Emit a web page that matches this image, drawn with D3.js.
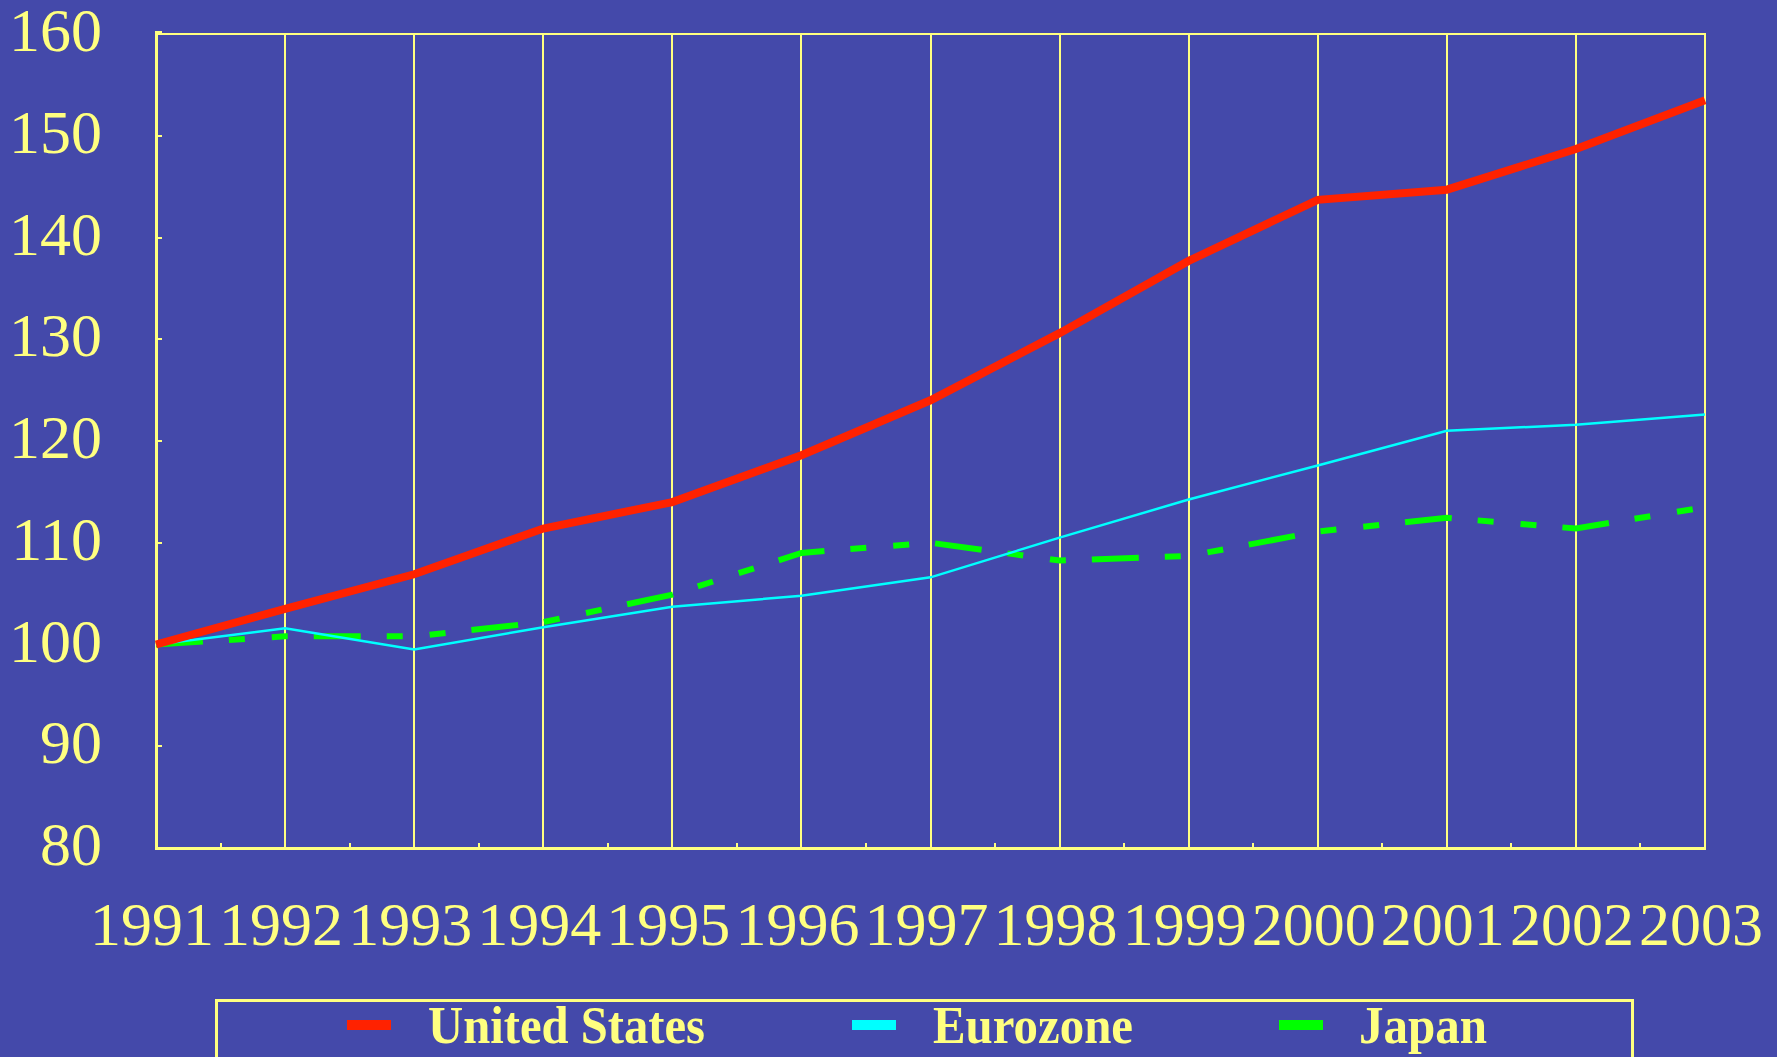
<!DOCTYPE html>
<html>
<head>
<meta charset="utf-8">
<script src="https://cdn.jsdelivr.net/npm/d3@7"></script>
<style>
  html, body { margin: 0; padding: 0; background: #4449AA; }
  svg { display: block; }
</style>
</head>
<body>
<svg id="chart" width="1777" height="1057"></svg>
<script>
// ---- data ----
const years = [1991, 1992, 1993, 1994, 1995, 1996, 1997, 1998, 1999, 2000, 2001, 2002, 2003];
const unitedStates = [100, 103.5, 106.9, 111.4, 114.0, 118.6, 124.0, 130.6, 137.7, 143.7, 144.7, 148.7, 153.5];
const eurozone = [100, 101.6, 99.5, 101.7, 103.7, 104.8, 106.6, 110.5, 114.25, 117.6, 121.0, 121.6, 122.6];
const japan = [100, 100.8, 100.8, 102.2, 104.9, 109.0, 110.0, 108.25, 108.7, 111.1, 112.45, 111.4, 113.5];
const yTicks = [80, 90, 100, 110, 120, 130, 140, 150, 160];
const xTickLabels = ["1991","1992","1993","1994","1995","1996","1997","1998","1999","2000","2001","2002","2003"];
const seriesNames = ["United States", "Eurozone", "Japan"];

// ---- styles ----
const BG = "#4449AA", YEL = "#FFFF80";
const FONT = "'Liberation Serif', 'Times New Roman', Times, serif";

const svg = d3.select("#chart");
svg.append("rect").attr("width", 1777).attr("height", 1057).attr("fill", BG);

const x = d3.scaleLinear().domain([1991, 2003]).range([156, 1705]);
const y = d3.scaleLinear().domain([80, 160]).range([848, 34]);
const rx = v => Math.round(x(v));
const ry = v => Math.round(y(v));

const g = svg.append("g");
const frame = g.append("g").attr("shape-rendering", "crispEdges");

// vertical gridlines at each year
frame.selectAll("line.grid").data(years.slice(1)).join("line")
  .attr("class", "grid")
  .attr("x1", d => rx(d)).attr("x2", d => rx(d))
  .attr("y1", ry(160)).attr("y2", ry(80))
  .attr("stroke", YEL).attr("stroke-width", 2);

// top border
frame.append("line").attr("x1", rx(1991)).attr("x2", rx(2003) + 1)
  .attr("y1", ry(160)).attr("y2", ry(160))
  .attr("stroke", YEL).attr("stroke-width", 2);

// left axis
frame.append("line").attr("x1", rx(1991)).attr("x2", rx(1991))
  .attr("y1", ry(160) - 3).attr("y2", ry(80) + 1)
  .attr("stroke", YEL).attr("stroke-width", 3);

// bottom axis
frame.append("line").attr("x1", rx(1991) - 1).attr("x2", rx(2003) + 1)
  .attr("y1", ry(80)).attr("y2", ry(80))
  .attr("stroke", YEL).attr("stroke-width", 3);

// y ticks (inward)
frame.selectAll("line.ytick").data(yTicks).join("line")
  .attr("class", "ytick")
  .attr("x1", rx(1991)).attr("x2", rx(1991) + 6)
  .attr("y1", d => ry(d) - (d === 160 ? 2 : 0)).attr("y2", d => ry(d) - (d === 160 ? 2 : 0))
  .attr("stroke", YEL).attr("stroke-width", 2);

// x minor ticks at half-years (inward)
frame.selectAll("line.xminor").data(years.slice(0, -1)).join("line")
  .attr("class", "xminor")
  .attr("x1", d => rx(d + 0.5)).attr("x2", d => rx(d + 0.5))
  .attr("y1", ry(80)).attr("y2", ry(80) - 5)
  .attr("stroke", YEL).attr("stroke-width", 2);

// y tick labels
g.selectAll("text.ylab").data(yTicks).join("text")
  .attr("class", "ylab")
  .attr("x", 102).attr("y", d => y(d) + 17)
  .attr("text-anchor", "end")
  .attr("font-family", FONT).attr("font-size", 62)
  .attr("fill", YEL)
  .text(d => d);

// x tick labels
g.selectAll("text.xlab").data(years).join("text")
  .attr("class", "xlab")
  .attr("x", d => x(d) - 4).attr("y", 945)
  .attr("text-anchor", "middle")
  .attr("font-family", FONT).attr("font-size", 62)
  .attr("fill", YEL)
  .text((d, i) => xTickLabels[i]);

// ---- lines ----
const line = d3.line().x((d, i) => x(years[i])).y(d => y(d));

g.append("path").datum(japan)
  .attr("d", line).attr("fill", "none")
  .attr("stroke", "#00FF00").attr("stroke-width", 6)
  .attr("stroke-dasharray", "47,26,16,27,16,26")
  .attr("stroke-linejoin", "miter");

g.append("path").datum(eurozone)
  .attr("d", line).attr("fill", "none")
  .attr("stroke", "#00FFFF").attr("stroke-width", 2.5)
  .attr("stroke-linejoin", "miter");

g.append("path").datum(unitedStates)
  .attr("d", line).attr("fill", "none")
  .attr("stroke", "#FF2200").attr("stroke-width", 8)
  .attr("stroke-linejoin", "miter");

// ---- legend ----
const lg = svg.append("g");
lg.append("rect")
  .attr("x", 216).attr("y", 1000).attr("width", 1416).attr("height", 80)
  .attr("fill", "none").attr("stroke", YEL).attr("stroke-width", 3)
  .attr("shape-rendering", "crispEdges");

const legendItems = [
  { name: seriesNames[0], color: "#FF2200", sx: 347, tx: 428, tw: 277 },
  { name: seriesNames[1], color: "#00FFFF", sx: 852, tx: 933, tw: 200 },
  { name: seriesNames[2], color: "#00FF00", sx: 1279, tx: 1359, tw: 128 }
];
const li = lg.selectAll("g.item").data(legendItems).join("g").attr("class", "item");
li.append("rect")
  .attr("x", d => d.sx).attr("y", 1020).attr("width", 44).attr("height", 10)
  .attr("fill", d => d.color);
li.append("text")
  .attr("x", d => d.tx).attr("y", 1043)
  .attr("font-family", FONT).attr("font-size", 53).attr("font-weight", "bold")
  .attr("fill", YEL)
  .attr("textLength", d => d.tw).attr("lengthAdjust", "spacingAndGlyphs")
  .text(d => d.name);
</script>
</body>
</html>
